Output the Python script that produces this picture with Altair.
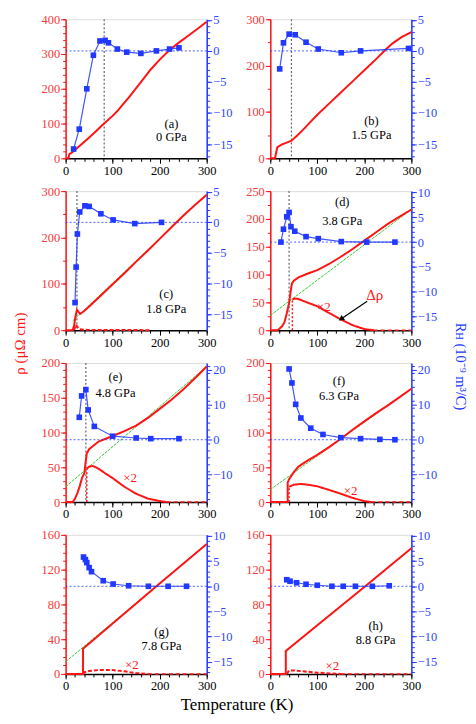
import altair as alt
import pandas as pd

FONT = "Liberation Serif"
RED = "#ff1414"
RED_LABEL = "#f53b3b"
BLUE = "#2038ff"
BLUE_LABEL = "#2f48ff"
GREEN = "#38c838"
GRAY = "#666666"

PANEL_IDS = ["(a)", "(b)", "(c)", "(d)", "(e)", "(f)", "(g)", "(h)"]
PRESSURES = ["0 GPa", "1.5 GPa", "1.8 GPa", "3.8 GPa", "4.8 GPa", "6.3 GPa", "7.8 GPa", "8.8 GPa"]
RHO_TITLE = "ρ (μΩ cm)"
RH_TITLE = "Rʜ (10⁻⁹ m³/C)"
T_TITLE = "Temperature (K)"

T_MAJOR = [0, 100, 200, 300]
T_MINOR = list(range(0, 301, 20))

RHO_DOMAINS = [[0, 400], [0, 300], [0, 300], [0, 250], [0, 200], [0, 200], [0, 160], [0, 160]]
RHO_MAJOR = [[0, 100, 200, 300, 400], [0, 100, 200, 300], [0, 100, 200, 300], [0, 50, 100, 150, 200, 250],
             [0, 50, 100, 150, 200], [0, 50, 100, 150, 200], [0, 40, 80, 120, 160], [0, 40, 80, 120, 160]]
RHO_MINOR_STEP = [20, 50, 50, 25, 10, 10, 10, 10]
RH_DOMAINS = [[-17.3, 5.1], [-17.3, 5.1], [-17.6, 5.1], [-17.8, 10.3], [-17.8, 21.9], [-17.8, 21.9], [-17.4, 10.2], [-17.4, 10.2]]
RH_MAJOR = [[-15, -10, -5, 0, 5], [-15, -10, -5, 0, 5], [-15, -10, -5, 0, 5], [-15, -10, -5, 0, 5, 10],
            [-10, 0, 10, 20], [-10, 0, 10, 20], [-15, -10, -5, 0, 5, 10], [-15, -10, -5, 0, 5, 10]]
RH_MINOR_STEP = [1, 1, 1, 1, 2, 2, 1, 1]

# ---------- (a) 0 GPa
A_RHO = [(0, 0), (6, 0), (8, 12), (15, 18), (20, 24), (30, 36), (40, 48), (50, 60), (60, 72), (70, 85),
         (80, 98), (90, 110), (100, 122), (110, 136), (120, 152), (135, 176), (150, 202), (165, 228),
         (180, 254), (200, 284), (220, 310), (240, 332), (260, 352), (280, 372), (300, 393)]
A_RH = [(17, -15.8), (29, -12.6), (45, -6.1), (59, -0.7), (73, 1.6), (84, 1.7), (91, 1.3), (110, 0.3),
        (130, -0.2), (160, -0.4), (193, 0.0), (221, 0.3), (241, 0.5)]
A_TC = 82
A_LABEL = (225, 99, 61)

# ---------- (b) 1.5 GPa
B_RHO = [(0, 0), (10, 0), (12, 10), (15, 24), (25, 30), (35, 34), (45, 38), (55, 47), (70, 62), (85, 78),
         (100, 94), (125, 118), (150, 142), (175, 166), (200, 190), (225, 214), (245, 234), (260, 248),
         (280, 262), (300, 272)]
B_RH = [(20, -2.9), (28, 1.3), (40, 2.7), (53, 2.6), (76, 1.4), (102, 0.3), (151, -0.3), (192, 0.0), (294, 0.4)]
B_TC = 45
B_LABEL = (215, 80, 50)

# ---------- (c) 1.8 GPa
C_RHO = [(0, 0), (15, 0), (18, 10), (21, 30), (24, 44), (27, 40), (31, 35), (40, 42), (50, 51), (75, 75),
         (100, 99), (125, 123), (150, 148), (175, 172), (200, 197), (225, 222), (250, 247), (275, 270), (300, 292)]
C_FIT = [(15, 20), (300, 294)]
C_DRHO = [(18, 0), (22, 12), (26, 6), (30, 2), (40, 1), (60, 0.5), (100, 0.5), (150, 0.3), (180, 0)]
C_TAIL = []
C_RH = [(20, -13.1), (22.3, -7.3), (25, -1.9), (30, 1.7), (41, 2.7), (50, 2.6), (75, 1.4), (101, 0.4),
        (147, -0.2), (204, 0.0)]
C_TC = 24
C_LABEL = (214, 78, 46)

# ---------- (d) 3.8 GPa
D_RHO = [(0, 0), (15, 0), (20, 3), (25, 7), (30, 14), (35, 30), (40, 49), (43, 68), (46, 84), (50, 89),
         (60, 95), (80, 102), (100, 108), (125, 119), (150, 132), (175, 146), (200, 161), (225, 176),
         (250, 191), (275, 204), (300, 217)]
D_FIT = [(0, 26.6), (300, 217)]
D_DRHO = [(47, 55), (52, 57), (60, 56), (75, 51), (100, 43), (125, 31), (150, 19.5), (175, 9), (200, 2), (220, 0)]
D_TAIL = [(220, 0), (300, 0)]
D_DROP = (47, 0, 55)
D_RH = [(22.6, 0), (28, 2.6), (35, 5.1), (40, 6.0), (44, 3.1), (52, 2.2), (76, 1.1), (102, 0.7), (151, 0.1),
        (205, 0), (265, 0)]
D_TC = 40
D_LABEL = (153, 230, 197)
D_X2 = (114, 42)
D_DELTA = (222, 64)
D_ARROW = [(206, 52), (152, 21)]

# ---------- (e) 4.8 GPa
E_RHO = [(0, 0), (15, 0), (20, 5), (25, 13), (30, 23), (35, 35), (40, 42), (43, 60), (45, 70), (50, 76),
         (55, 79), (70, 87), (85, 91), (100, 95), (125, 102), (150, 110), (175, 121), (200, 134), (225, 147),
         (250, 162), (275, 178), (300, 195)]
E_FIT = [(0, 22), (300, 195)]
E_DRHO = [(45, 48), (50, 51), (58, 52), (70, 48), (85, 41), (100, 34.5), (125, 22), (150, 12), (175, 5),
          (200, 1.5), (215, 0)]
E_TAIL = [(215, 0), (300, 0)]
E_DROP = (45, 0, 48)
E_RH = [(29, 6.4), (34, 12.5), (43, 14.3), (48, 8.5), (61, 3.8), (100, 1.0), (150, 0.5), (181, 0.3), (241, 0.3)]
E_TC = 43
E_LABEL = (106, 180, 157)
E_X2 = (137, 34)

# ---------- (f) 6.3 GPa
F_RHO = [(0, 0), (37, 0), (37, 28), (40, 33), (45, 38), (50, 43), (60, 51), (80, 60), (100, 68), (125, 79),
         (150, 91), (175, 104), (200, 116), (225, 128), (250, 139), (275, 151), (300, 163)]
F_FIT = [(0, 18), (300, 163)]
F_DRHO = [(40, 22), (50, 25), (65, 26), (80, 25), (100, 22.7), (125, 17.5), (150, 12), (175, 6), (200, 1.4), (215, 0)]
F_TAIL = [(215, 0), (245, 0), (260, 0), (300, 0)]
F_DROP = (40, 0, 22)
F_RH = [(40, 20.2), (46, 16.2), (54, 10.1), (65, 6.2), (86, 3.3), (112, 1.5), (150, 0.6), (192, 0.3),
        (233, 0.1), (265, 0)]
F_LABEL = (146, 174, 153)
F_X2 = (171, 16)

# ---------- (g) 7.8 GPa
G_RHO = [(0, 0), (37, 0), (37, 29), (100, 58), (200, 104), (300, 149.5)]
G_FIT = [(0, 14), (300, 149.5)]
G_DRHO = [(37, 0), (40, 2), (50, 3.5), (70, 4.5), (100, 4.5), (125, 3), (150, 1), (175, 0)]
G_TAIL = [(175, 0), (300, 0)]
G_RH = [(38, 5.8), (42, 5.3), (45, 4.7), (50, 3.7), (55, 2.9), (80, 1.1), (101, 0.45), (134, 0.1), (176, 0),
        (218, 0), (257, 0)]
G_LABEL = (204, 48, 32)
G_X2 = (141, 10)

# ---------- (h) 8.8 GPa
H_RHO = [(0, 0), (33, 0), (33, 26.5), (100, 56), (200, 100), (300, 144.5)]
H_FIT = [(30, 25.2), (300, 144.5)]
H_DRHO = [(35, 0), (40, 4), (50, 4), (70, 3), (100, 1.5), (130, 0.5), (150, 0)]
H_TAIL = [(150, 0), (300, 0)]
H_RH = [(35, 1.3), (42, 1.0), (56, 0.7), (76, 0.4), (100, 0.2), (131, 0), (155, 0), (181, 0), (217, 0), (253, 0.1)]
H_LABEL = (224, 55, 39)
H_X2 = (132, 9.5)

PANELS = [
    dict(rho=A_RHO, rh=A_RH, tc=A_TC, lab=A_LABEL),
    dict(rho=B_RHO, rh=B_RH, tc=B_TC, lab=B_LABEL),
    dict(rho=C_RHO, rh=C_RH, tc=C_TC, lab=C_LABEL, fit=C_FIT, drho=C_DRHO, tail=C_TAIL, dashed=True,
         rho_title=True),
    dict(rho=D_RHO, rh=D_RH, tc=D_TC, lab=D_LABEL, fit=D_FIT, drho=D_DRHO, tail=D_TAIL, drop=D_DROP,
         x2=D_X2, delta=D_DELTA, arrow=D_ARROW, rh_title=True),
    dict(rho=E_RHO, rh=E_RH, tc=E_TC, lab=E_LABEL, fit=E_FIT, drho=E_DRHO, tail=E_TAIL, drop=E_DROP, x2=E_X2),
    dict(rho=F_RHO, rh=F_RH, lab=F_LABEL, fit=F_FIT, drho=F_DRHO, tail=F_TAIL, drop=F_DROP, x2=F_X2),
    dict(rho=G_RHO, rh=G_RH, lab=G_LABEL, fit=G_FIT, drho=G_DRHO, tail=G_TAIL, x2=G_X2, dashed=True,
         t_title=True),
    dict(rho=H_RHO, rh=H_RH, lab=H_LABEL, fit=H_FIT, drho=H_DRHO, tail=H_TAIL, x2=H_X2, dashed=True),
]

W, H = 142, 140


def frange(a, b, s):
    out = []
    v = a
    while v <= b + 1e-9:
        out.append(round(v, 6))
        v += s
    return out


def build(i):
    p = PANELS[i]
    rdom = RHO_DOMAINS[i]
    hdom = RH_DOMAINS[i]
    xsc = alt.Scale(domain=[0, 300], nice=False, zero=False)
    ysc = alt.Scale(domain=rdom, nice=False, zero=False)
    rsc = alt.Scale(domain=hdom, nice=False, zero=False)

    if p.get("t_title"):
        xt = dict(title=T_TITLE, titleFont=FONT, titleFontSize=17, titleFontWeight="normal", titleColor="black",
                  titleX=172, titleY=23, titleAlign="center", titleBaseline="top")
    else:
        xt = dict(title=None)
    ax_x = alt.Axis(orient="bottom", values=T_MAJOR, tickSize=5, tickColor="black", domainColor="black",
                    domainWidth=1.5, labelColor="black", labelFont=FONT, labelFontSize=12.5, labelPadding=1,
                    labelFlush=False, labelOverlap=False, grid=False, **xt)
    ax_x2 = alt.Axis(orient="bottom", values=T_MINOR, tickSize=3, tickColor="black", labels=False,
                     domain=False, grid=False, title=None)
    if p.get("rho_title"):
        yt = dict(title=RHO_TITLE, titleFont=FONT, titleFontSize=15, titleFontWeight="normal", titleColor=RED,
                  titleX=-38, titleY=153, titleAngle=270, titleAlign="center", titleBaseline="bottom")
    else:
        yt = dict(title=None)
    ax_y = alt.Axis(orient="left", values=RHO_MAJOR[i], tickSize=5, tickColor=RED, domainColor=RED,
                    domainWidth=1.5, labelColor=RED_LABEL, labelFont=FONT, labelFontSize=12.5, labelPadding=1,
                    labelFlush=False, labelOverlap=False, grid=False, format="d", **yt)
    ax_y2 = alt.Axis(orient="left", values=frange(rdom[0], rdom[1], RHO_MINOR_STEP[i]), tickSize=3,
                     tickColor=RED, labels=False, domain=False, grid=False, title=None)
    if p.get("rh_title"):
        rt = dict(title=RH_TITLE, titleFont=FONT, titleFontSize=14.5, titleFontWeight="normal", titleColor=BLUE,
                  titleX=41, titleY=176, titleAngle=90, titleAlign="center", titleBaseline="bottom")
    else:
        rt = dict(title=None)
    ax_r = alt.Axis(orient="right", values=RH_MAJOR[i], tickSize=5, tickColor=BLUE, domainColor=BLUE,
                    domainWidth=1.5, labelColor=BLUE_LABEL, labelFont=FONT, labelFontSize=12.5, labelPadding=1,
                    labelFlush=False, labelOverlap=False, grid=False, format="d", **rt)
    ax_r2 = alt.Axis(orient="right", values=frange(-17, hdom[1], RH_MINOR_STEP[i]), tickSize=3,
                     tickColor=BLUE, labels=False, domain=False, grid=False, title=None)

    def X(axis=None):
        return alt.X("T:Q", scale=xsc, axis=axis)

    def Y(axis=None):
        return alt.Y("rho:Q", scale=ysc, axis=axis)

    def R(axis=None):
        return alt.Y("R:Q", scale=rsc, axis=axis)

    red_layers = []
    if "fit" in p:
        red_layers.append(alt.Chart(pd.DataFrame(p["fit"], columns=["T", "rho"])).mark_line(
            color=GREEN, strokeWidth=1, strokeDash=[3, 1]).encode(x=X(), y=Y()))
    if "tc" in p:
        red_layers.append(alt.Chart(pd.DataFrame({"T": [p["tc"]]})).mark_rule(
            color=GRAY, strokeWidth=1.2, strokeDash=[2, 2]).encode(x=X()))
    red_layers.append(alt.Chart(pd.DataFrame(p["rho"], columns=["T", "rho"])).mark_line(
        color=RED, strokeWidth=2).encode(x=X(ax_x), y=Y(ax_y)))
    if "drho" in p:
        dash = [4, 2] if p.get("dashed") else [1, 0]
        red_layers.append(alt.Chart(pd.DataFrame(p["drho"], columns=["T", "rho"])).mark_line(
            color=RED, strokeWidth=2, strokeDash=dash).encode(x=X(), y=Y()))
    if p.get("tail"):
        red_layers.append(alt.Chart(pd.DataFrame(p["tail"], columns=["T", "rho"])).mark_line(
            color=RED, strokeWidth=1.5, strokeDash=[4, 3]).encode(x=X(), y=Y()))
    if "drop" in p:
        t, a, b = p["drop"]
        red_layers.append(alt.Chart(pd.DataFrame({"T": [t], "rho": [a], "rho2": [b]})).mark_rule(
            color=RED, strokeWidth=1.5, strokeDash=[2, 2]).encode(x=X(), y=Y(), y2="rho2:Q"))
    if "arrow" in p:
        adf = pd.DataFrame(p["arrow"], columns=["T", "rho"])
        red_layers.append(alt.Chart(adf).mark_line(color="black", strokeWidth=1.2).encode(x=X(), y=Y()))
        red_layers.append(alt.Chart(adf.iloc[[1]]).mark_point(
            shape="triangle", filled=True, color="black", size=40, angle=236, opacity=1).encode(x=X(), y=Y()))
    t0, y1, y2 = p["lab"]
    lab_df = pd.DataFrame({"T": [t0, t0], "rho": [y1, y2], "txt": [PANEL_IDS[i], PRESSURES[i]]})
    red_layers.append(alt.Chart(lab_df).mark_text(
        font=FONT, fontSize=12.5, color="black", align="center", baseline="middle").encode(
        x=X(ax_x2), y=Y(ax_y2), text="txt:N"))
    ann = []
    if "x2" in p:
        ann.append((p["x2"][0], p["x2"][1], "×2", 13))
    if "delta" in p:
        ann.append((p["delta"][0], p["delta"][1], "Δρ", 15))
    for (t, r, s, fs) in ann:
        red_layers.append(alt.Chart(pd.DataFrame({"T": [t], "rho": [r], "txt": [s]})).mark_text(
            font=FONT, fontSize=fs, color=RED, align="center", baseline="middle").encode(
            x=X(), y=Y(), text="txt:N"))

    red = alt.layer(*red_layers).resolve_axis(x="independent", y="independent")

    zero_df = pd.DataFrame({"T": [0, 300], "R": [0, 0]})
    rh_df = pd.DataFrame(p["rh"], columns=["T", "R"])
    blue = alt.layer(
        alt.Chart(zero_df).mark_line(color=BLUE, strokeWidth=1, strokeDash=[2, 2], opacity=0.8).encode(
            x=X(), y=R(ax_r2)),
        alt.Chart(rh_df).mark_line(color=BLUE, strokeWidth=1.2, opacity=0.85).encode(x=X(), y=R(ax_r)),
        alt.Chart(rh_df).mark_square(color=BLUE, size=32, opacity=1).encode(x=X(), y=R()),
    ).resolve_axis(y="independent")

    return alt.layer(red, blue).resolve_scale(y="independent").properties(width=W, height=H)


chart = alt.concat(*[build(i) for i in range(8)], columns=2, bounds="flush",
                   spacing={"row": 33, "column": 64}).properties(
    padding={"left": 4, "right": 0, "top": 2, "bottom": 0})

chart = chart.configure_view(stroke="#444444", strokeWidth=1.5).configure(font=FONT)

chart.save("out.html", embed_options={"renderer": "svg", "actions": False})
